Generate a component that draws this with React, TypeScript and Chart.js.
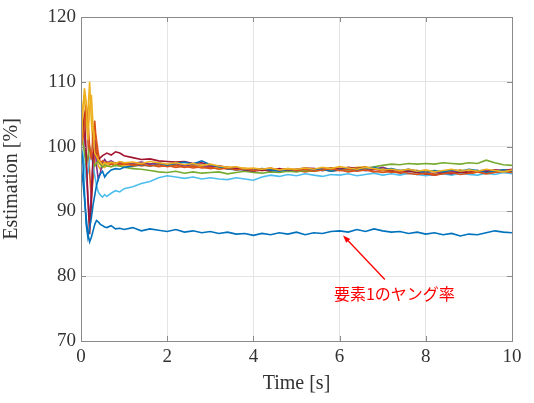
import { useEffect, useRef } from "react";
import { Chart, registerables } from "chart.js";

Chart.register(...registerables);

// Sample times [s]: dense during the initial transient, then every 0.2 s
const TIME = [
  0, 0.04, 0.08, 0.12, 0.16, 0.2, 0.24, 0.28, 0.32, 0.36, 0.4, 0.45, 0.5, 0.55, 0.6, 0.7, 0.8, 0.9, 1.0,
  1.2, 1.4, 1.6, 1.8, 2.0,
  2.2, 2.4, 2.6, 2.8, 3.0,
  3.2, 3.4, 3.6, 3.8, 4.0,
  4.2, 4.4, 4.6, 4.8, 5.0,
  5.2, 5.4, 5.6, 5.8, 6.0,
  6.2, 6.4, 6.6, 6.8, 7.0,
  7.2, 7.4, 7.6, 7.8, 8.0,
  8.2, 8.4, 8.6, 8.8, 9.0,
  9.2, 9.4, 9.6, 9.8, 10.0,
];

// Estimated parameters [%] for each element
const EST_1 = [
  97.0, 95.0, 92.0, 89.0, 86.5, 85.3, 86.0, 87.0, 88.0, 88.6, 88.4, 88.0, 87.8, 87.6, 87.5, 87.8, 87.3, 87.4, 87.2,
  87.5, 87.0, 87.3, 87.1, 86.9,
  87.2, 86.8, 87.0, 86.7, 86.9,
  86.6, 86.8, 86.5, 86.6, 86.3,
  86.6, 86.4, 86.7, 86.5, 86.8,
  86.4, 86.7, 86.6, 86.9, 87.0,
  86.8, 87.2, 86.9, 87.3, 87.0,
  86.8, 86.9, 86.6, 86.8, 86.5,
  86.7, 86.4, 86.6, 86.2, 86.5,
  86.4, 86.7, 87.0, 86.8, 86.7,
];
const EST_2 = [
  100.0, 102.0, 105.0, 106.0, 101.0, 96.0, 92.0, 95.0, 99.0, 101.0, 99.0, 97.5, 96.8, 97.2, 97.0, 97.3, 97.1, 97.4, 97.2,
  97.3, 97.0, 97.2, 96.9, 97.1,
  96.8, 97.0, 96.7, 96.9, 96.6,
  96.8, 96.5, 96.7, 96.4, 96.6,
  96.3, 96.5, 96.2, 96.4, 96.3,
  96.1, 96.3, 96.5, 96.2, 96.4,
  96.1, 96.3, 96.5, 96.2, 96.0,
  96.2, 95.9, 95.8, 96.0, 95.7,
  95.9, 96.1, 95.8, 96.0, 95.8,
  96.1, 95.9, 96.2, 96.0, 96.1,
];
const EST_3 = [
  101.0, 106.0, 108.0, 103.0, 105.0, 110.0, 104.0, 100.0, 103.0, 99.0, 97.0, 96.5, 97.2, 96.8, 97.1, 96.9, 97.2, 97.0, 97.1,
  96.9, 97.2, 97.0, 97.3, 97.1,
  97.2, 96.9, 97.1, 96.8, 96.9,
  96.6, 96.8, 96.5, 96.7, 96.4,
  96.6, 96.3, 96.5, 96.2, 96.4,
  96.6, 96.3, 96.5, 96.7, 96.4,
  96.6, 96.8, 96.9, 96.5, 96.7,
  96.4, 96.2, 96.5, 96.3, 96.1,
  96.3, 96.0, 96.2, 96.4, 96.1,
  96.3, 96.0, 96.2, 96.4, 96.3,
];
const EST_4 = [
  100.0, 104.0, 102.0, 97.0, 92.0, 88.5, 93.0, 98.0, 101.0, 97.0, 95.0, 96.0, 97.5, 98.0, 97.5, 97.8, 97.4, 97.6, 97.5,
  97.4, 97.6, 97.3, 97.5, 97.2,
  97.4, 97.0, 97.3, 97.1, 96.9,
  97.0, 96.7, 96.8, 96.5, 96.3,
  96.5, 96.2, 96.4, 96.3, 96.5,
  96.4, 96.6, 96.3, 96.5, 96.7,
  96.4, 96.6, 96.3, 96.5, 96.8,
  96.4, 96.3, 96.1, 96.3, 96.0,
  96.2, 95.9, 96.1, 96.3, 96.0,
  96.2, 96.4, 96.1, 96.3, 96.2,
];
const EST_5 = [
  100.0, 101.0, 99.0, 97.0, 98.5, 100.0, 99.0, 97.5, 97.0, 97.5, 97.8, 97.2, 96.8, 97.2, 97.0, 96.9, 97.1, 97.0, 96.8,
  96.6, 96.5, 96.3, 96.1, 96.0,
  96.2, 95.9, 96.1, 95.9, 96.0,
  96.1, 95.8, 96.0, 96.2, 96.0,
  95.9, 96.1, 96.0, 96.2, 96.1,
  96.3, 96.2, 96.4, 96.3, 96.5,
  96.4, 96.6, 96.7, 96.9, 97.1,
  97.3, 97.2, 97.4, 97.3, 97.4,
  97.3, 97.5, 97.4, 97.3, 97.5,
  97.4, 97.9, 97.5, 97.2, 97.1,
];
const EST_6 = [
  100.0, 99.0, 97.0, 95.0, 96.0, 98.0, 99.0, 97.0, 95.5, 94.0, 93.0, 92.5, 92.2, 92.6, 92.3, 92.8, 93.2, 93.0, 93.5,
  93.8, 94.3, 94.6, 95.2, 95.5,
  95.3, 95.1, 95.3, 95.0, 95.2,
  95.0, 94.9, 95.2, 95.0, 94.8,
  95.3, 95.6, 95.4, 95.7, 95.5,
  95.8, 95.6, 95.4, 95.7, 95.6,
  95.8, 95.5, 95.7, 95.9, 95.6,
  95.8, 95.6, 95.9, 95.7, 95.5,
  95.7, 95.8, 95.6, 95.9, 95.7,
  95.6, 95.9, 95.7, 96.0, 95.8,
];
const EST_7 = [
  100.0, 103.0, 104.5, 99.0, 92.0, 86.5, 91.0, 99.0, 100.0, 98.5, 98.0, 98.3, 98.6, 98.8, 99.0, 98.7, 99.2, 99.0, 98.6,
  98.3, 98.0, 98.1, 97.8, 97.7,
  97.6, 97.7, 97.4, 97.5, 97.1,
  97.0, 96.8, 96.6, 96.4, 96.2,
  96.4, 96.3, 96.6, 96.4, 96.5,
  96.7, 96.6, 96.5, 96.7, 96.5,
  96.8, 96.6, 96.8, 96.5, 96.4,
  96.3, 96.1, 96.3, 96.0, 95.8,
  95.6, 95.9, 95.8, 96.1, 96.0,
  96.3, 96.1, 96.4, 96.3, 96.5,
];
const EST_8 = [
  100.0, 98.0, 93.0, 88.0, 86.0, 87.5, 89.0, 91.0, 92.5, 94.0, 95.0, 95.8, 96.2, 95.3, 95.8, 96.4, 96.6, 96.5, 96.8,
  97.0, 97.2, 97.0, 97.3, 97.1,
  97.4, 97.6, 97.3, 97.8, 97.2,
  96.9, 96.6, 96.4, 96.5, 96.3,
  96.6, 96.4, 96.2, 96.5, 96.3,
  96.6, 96.4, 96.5, 96.2, 96.4,
  96.6, 96.3, 96.5, 96.8, 96.4,
  96.6, 96.3, 96.5, 96.2, 96.0,
  96.3, 96.1, 96.4, 96.2, 96.5,
  96.3, 96.0, 96.2, 96.4, 96.2,
];
const EST_9 = [
  100.0, 101.0, 103.0, 106.5, 104.0, 100.0, 98.0, 102.0, 104.0, 100.0, 98.0, 97.5, 97.8, 97.5, 97.6, 97.3, 97.5, 97.2, 97.4,
  97.1, 97.3, 97.0, 97.2, 96.9,
  97.1, 96.8, 97.0, 96.7, 96.8,
  96.5, 96.7, 96.4, 96.6, 96.3,
  96.5, 96.7, 96.4, 96.6, 96.3,
  96.5, 96.2, 96.4, 96.6, 96.3,
  96.5, 96.2, 96.4, 96.1, 96.3,
  96.0, 96.2, 95.9, 95.7, 95.9,
  95.6, 95.8, 96.0, 95.7, 95.9,
  96.1, 95.8, 96.0, 96.2, 96.0,
];
const EST_10 = [
  98.0, 105.0, 109.0, 107.0, 101.0, 106.0, 108.0, 103.0, 99.0, 98.5, 98.0, 97.6, 97.2, 97.5, 97.3, 97.6, 97.4, 97.7, 97.5,
  97.6, 97.4, 97.7, 97.5, 97.3,
  97.5, 97.2, 97.4, 97.1, 97.3,
  97.0, 96.8, 96.9, 96.6, 96.7,
  96.5, 96.7, 96.4, 96.6, 96.5,
  96.7, 96.5, 96.8, 96.6, 96.9,
  96.7, 96.5, 96.8, 96.6, 96.4,
  96.5, 96.3, 96.5, 96.2, 96.4,
  96.1, 96.3, 96.5, 96.2, 96.4,
  96.2, 96.5, 96.3, 96.1, 96.4,
];

const SERIES = [EST_1, EST_2, EST_3, EST_4, EST_5, EST_6, EST_7, EST_8, EST_9, EST_10];
const SERIES_COLORS = [
  "#0072BD", "#D95319", "#EDB120", "#7E2F8E", "#77AC30",
  "#4DBEEE", "#A2142F", "#0072BD", "#D95319", "#EDB120",
];

const X_MIN = 0;
const X_MAX = 10;
const X_STEP = 2;
const Y_MIN = 70;
const Y_MAX = 120;
const Y_STEP = 10;

// Callout for element 1 (data coordinates)
const NOTE_TEXT = "要素1のヤング率";
const NOTE_TIP = { x: 6.08, y: 86.3 };
const NOTE_TAIL = { x: 7.05, y: 79.5 };
const NOTE_LABEL = { x: 7.27, y: 77.2 };

const TEXT_COLOR = "#333333";
const SERIF = "'Liberation Serif', 'Times New Roman', serif";

// Axes box with inward tick marks on all four sides
const boxPlugin = {
  id: "axesBox",
  afterDatasetsDraw(chart: any) {
    const { ctx, chartArea: a, scales } = chart;
    const len = 5;
    ctx.save();
    ctx.strokeStyle = "#8a8a8a";
    ctx.lineWidth = 1;
    ctx.beginPath();
    for (const t of scales.x.ticks) {
      const px = Math.round(scales.x.getPixelForValue(t.value)) + 0.5;
      ctx.moveTo(px, a.bottom);
      ctx.lineTo(px, a.bottom - len);
      ctx.moveTo(px, a.top);
      ctx.lineTo(px, a.top + len);
    }
    for (const t of scales.y.ticks) {
      const py = Math.round(scales.y.getPixelForValue(t.value)) + 0.5;
      ctx.moveTo(a.left, py);
      ctx.lineTo(a.left + len, py);
      ctx.moveTo(a.right, py);
      ctx.lineTo(a.right - len, py);
    }
    ctx.stroke();
    ctx.strokeRect(
      Math.round(a.left) + 0.5,
      Math.round(a.top) + 0.5,
      Math.round(a.right - a.left),
      Math.round(a.bottom - a.top)
    );
    ctx.restore();
  },
};

// Red arrow and label pointing at the element-1 curve
const notePlugin = {
  id: "elementNote",
  afterDraw(chart: any) {
    const { ctx, scales } = chart;
    const tx = scales.x.getPixelForValue(NOTE_TIP.x);
    const ty = scales.y.getPixelForValue(NOTE_TIP.y);
    const sx = scales.x.getPixelForValue(NOTE_TAIL.x);
    const sy = scales.y.getPixelForValue(NOTE_TAIL.y);
    const ang = Math.atan2(ty - sy, tx - sx);
    const head = 8;
    ctx.save();
    ctx.strokeStyle = "#ff0000";
    ctx.fillStyle = "#ff0000";
    ctx.lineWidth = 1.3;
    ctx.beginPath();
    ctx.moveTo(sx, sy);
    ctx.lineTo(tx - Math.cos(ang) * head * 0.8, ty - Math.sin(ang) * head * 0.8);
    ctx.stroke();
    ctx.beginPath();
    ctx.moveTo(tx, ty);
    ctx.lineTo(tx - head * Math.cos(ang - 0.35), ty - head * Math.sin(ang - 0.35));
    ctx.lineTo(tx - head * Math.cos(ang + 0.35), ty - head * Math.sin(ang + 0.35));
    ctx.closePath();
    ctx.fill();
    ctx.font = "16px 'Noto Sans CJK JP', sans-serif";
    ctx.textAlign = "center";
    ctx.textBaseline = "middle";
    ctx.fillText(
      NOTE_TEXT,
      scales.x.getPixelForValue(NOTE_LABEL.x),
      scales.y.getPixelForValue(NOTE_LABEL.y)
    );
    ctx.restore();
  },
};

export default function App() {
  const canvasRef = useRef<HTMLCanvasElement | null>(null);

  useEffect(() => {
    document.body.style.margin = "0";
    const canvas = canvasRef.current;
    if (!canvas) return;

    const datasets = SERIES.map((values, i) => ({
      data: values.map((v, k) => ({ x: TIME[k], y: v })),
      borderColor: SERIES_COLORS[i],
      backgroundColor: SERIES_COLORS[i],
      borderWidth: 1.6,
      pointRadius: 0,
      tension: 0,
      order: SERIES.length - i,
    }));

    const chart = new Chart(canvas, {
      type: "line",
      data: { datasets },
      options: {
        animation: false,
        responsive: false,
        devicePixelRatio: 1,
        layout: { padding: { top: 17, right: 22, left: 0, bottom: 0 } },
        plugins: {
          legend: { display: false },
          tooltip: { enabled: false },
        },
        scales: {
          x: {
            type: "linear",
            min: X_MIN,
            max: X_MAX,
            ticks: {
              stepSize: X_STEP,
              color: TEXT_COLOR,
              font: { family: SERIF, size: 19 },
              padding: 5,
              maxRotation: 0,
            },
            grid: { color: "#e4e4e4", drawTicks: false },
            border: { display: false },
            title: {
              display: true,
              text: "Time [s]",
              color: TEXT_COLOR,
              font: { family: SERIF, size: 20 },
              padding: { top: 0, bottom: 7 },
            },
            afterFit(scale: any) {
              scale.height = 62;
            },
          },
          y: {
            type: "linear",
            min: Y_MIN,
            max: Y_MAX,
            ticks: {
              stepSize: Y_STEP,
              color: TEXT_COLOR,
              font: { family: SERIF, size: 19 },
              padding: 5,
            },
            grid: { color: "#e4e4e4", drawTicks: false },
            border: { display: false },
            title: {
              display: true,
              text: "Estimation [%]",
              color: TEXT_COLOR,
              font: { family: SERIF, size: 20 },
              padding: { top: 0, bottom: 13 },
            },
            afterFit(scale: any) {
              scale.width = 81;
            },
          },
        },
      },
      plugins: [boxPlugin, notePlugin],
    });

    return () => chart.destroy();
  }, []);

  return (
    <div style={{ width: 534, height: 403, background: "#ffffff" }}>
      <canvas ref={canvasRef} width={534} height={403} />
    </div>
  );
}
